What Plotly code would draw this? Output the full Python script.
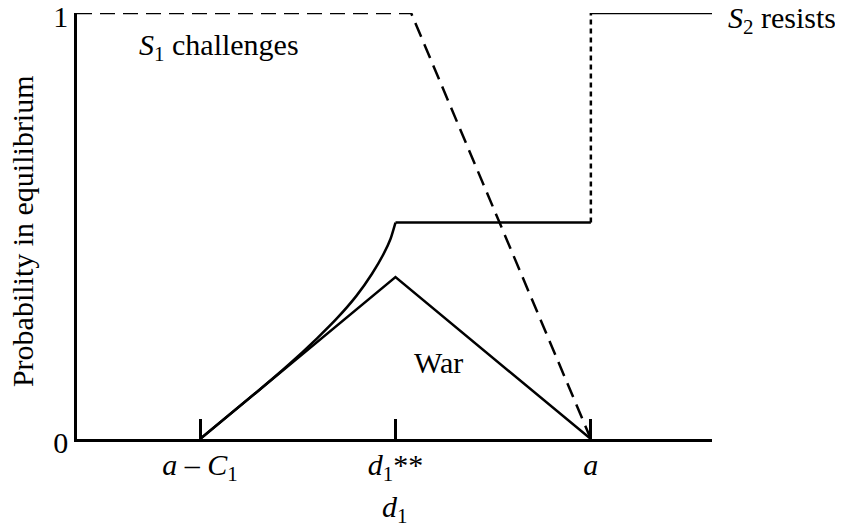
import plotly.graph_objects as go

# Values (x in units where a-C1=1, d1**=2, a=3)
x_min, x_max = 0.37, 3.62
tick_x = [1, 2, 3]
tick_text = ["<i>a</i> – <i>C</i><sub>1</sub>", "<i>d</i><sub>1</sub>**", "<i>a</i>"]

# S1 challenges (dashed)
chal_x = [x_min, 2.08, 3]
chal_y = [1, 1, 0]

# S2 resists (solid curve, flat, dotted jump, flat)
res_curve_x = [1, 1.3, 1.45, 1.6, 1.7, 1.8, 1.88, 1.94, 1.975, 2]
res_curve_y = [0, 0.114, 0.173, 0.237, 0.283, 0.336, 0.388, 0.435, 0.47, 0.508]
res_flat_x = [2, 3]
res_flat_y = [0.508, 0.508]
res_jump_x = [3, 3]
res_jump_y = [0.508, 1]
res_top_x = [3, x_max]
res_top_y = [1, 1]

# War (solid triangle)
war_x = [1, 2, 3]
war_y = [0, 0.38, 0]

FONT = "Liberation Serif"
BLACK = "black"
FS = 30
LW = 2.5

fig = go.Figure()
fig.add_trace(go.Scatter(x=chal_x, y=chal_y, mode="lines",
                         line=dict(color=BLACK, width=LW, dash="15px,8px")))
fig.add_trace(go.Scatter(x=res_curve_x, y=res_curve_y, mode="lines",
                         line=dict(color=BLACK, width=LW, shape="spline", smoothing=0.5)))
fig.add_trace(go.Scatter(x=res_flat_x, y=res_flat_y, mode="lines",
                         line=dict(color=BLACK, width=LW)))
fig.add_trace(go.Scatter(x=res_jump_x, y=res_jump_y, mode="lines",
                         line=dict(color=BLACK, width=LW, dash="5px,4px")))
fig.add_trace(go.Scatter(x=res_top_x, y=res_top_y, mode="lines",
                         line=dict(color=BLACK, width=LW)))
fig.add_trace(go.Scatter(x=war_x, y=war_y, mode="lines",
                         line=dict(color=BLACK, width=LW)))
fig.update_traces(cliponaxis=False, hoverinfo="skip")

fig.update_layout(
    width=843, height=525,
    margin=dict(l=69, r=139, t=5, b=94),
    paper_bgcolor="white", plot_bgcolor="white",
    showlegend=False,
    font=dict(family=FONT, size=FS, color=BLACK),
    xaxis=dict(range=[x_min, x_max], showgrid=False, zeroline=False,
               showline=True, linecolor=BLACK, linewidth=LW, automargin=False,
               tickmode="array", tickvals=tick_x, ticktext=tick_text,
               ticks="inside", ticklen=20, tickwidth=LW, tickcolor=BLACK,
               ticklabelstandoff=-3, tickfont=dict(family=FONT, size=FS)),
    yaxis=dict(range=[0, 1], showgrid=False, zeroline=False,
               showline=True, linecolor=BLACK, linewidth=LW, automargin=False,
               tickmode="array", tickvals=[0, 1], ticktext=["0", "1"],
               ticks="", ticklabeloverflow="allow", ticklabelshift=3,
               tickfont=dict(family=FONT, size=FS)),
)

labels = [
    dict(x=0.677, y=0.92, xshift=0, text="<i>S</i><sub>1</sub> challenges", xanchor="left"),
    dict(x=x_max, y=0.984, xshift=14, text="<i>S</i><sub>2</sub> resists", xanchor="left"),
    dict(x=2.218, y=0.18, xshift=0, text="War", xanchor="center"),
]
for a in labels:
    fig.add_annotation(x=a["x"], y=a["y"], xref="x", yref="y", text=a["text"],
                       xshift=a["xshift"], xanchor=a["xanchor"], yanchor="middle",
                       showarrow=False, font=dict(family=FONT, size=FS, color=BLACK))

fig.add_annotation(x=2, y=0, xref="x", yref="paper", yshift=-70, yanchor="middle",
                   text="<i>d</i><sub>1</sub>", showarrow=False,
                   font=dict(family=FONT, size=FS, color=BLACK))
fig.add_annotation(x=0, y=0.488, xref="paper", yref="y", xshift=-55,
                   xanchor="center", yanchor="middle",
                   text="Probability in equilibrium", textangle=-90,
                   showarrow=False, font=dict(family=FONT, size=FS, color=BLACK))

fig.write_html("out.html")
